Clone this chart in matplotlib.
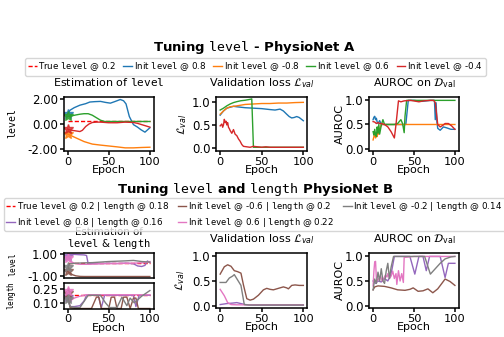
import matplotlib.pyplot as plt
from matplotlib.ticker import FormatStrFormatter

plt.rcParams['font.family'] = ['DejaVu Sans']
plt.rcParams['mathtext.fontset'] = 'dejavusans'
plt.rcParams['axes.linewidth'] = 1.1
plt.rcParams['xtick.major.width'] = 1.1
plt.rcParams['ytick.major.width'] = 1.1
plt.rcParams['xtick.major.size'] = 3
plt.rcParams['ytick.major.size'] = 3
plt.rcParams['xtick.major.pad'] = 1.0
plt.rcParams['ytick.major.pad'] = 1
plt.rcParams['xtick.labelsize'] = 8.2
plt.rcParams['ytick.labelsize'] = 8.5

# ---------------- PhysioNet A : tuning level ----------------
a_true_level = 0.2
a_init_levels = [0.8, -0.8, 0.6, -0.4]
a_colors = ['tab:blue', 'tab:orange', 'tab:green', 'tab:red']

# level estimate per run
a_lvl_ep_blue = [0, 3, 8, 15, 22, 27, 33, 40, 46, 52, 58, 64, 68, 71, 75, 80, 85, 89, 94, 100]
a_lvl_blue = [0.8, 1.1, 1.3, 1.5, 1.62, 1.75, 1.78, 1.8, 1.72, 1.66, 1.8, 1.95, 1.85, 1.6,
              0.6, -0.05, -0.25, -0.45, -0.65, -0.3]
a_lvl_ep_orange = [0, 5, 10, 15, 20, 25, 30, 40, 50, 60, 70, 80, 90, 100]
a_lvl_orange = [-0.8, -0.95, -1.1, -1.25, -1.4, -1.5, -1.6, -1.68, -1.75, -1.82, -1.9, -1.9,
                -1.87, -1.85]
a_lvl_ep_green = [0, 5, 10, 15, 20, 25, 30, 35, 40, 45, 50, 100]
a_lvl_green = [0.6, 0.65, 0.72, 0.78, 0.82, 0.82, 0.7, 0.5, 0.3, 0.2, 0.2, 0.2]
a_lvl_ep_red = [0, 5, 10, 15, 18, 22, 26, 30, 35, 40, 50, 60, 70, 80, 85, 90, 95, 100]
a_lvl_red = [-0.4, -0.5, -0.55, -0.6, -0.5, -0.2, 0.0, 0.12, 0.15, 0.15, 0.1, 0.1, 0.15, 0.12,
             0.05, -0.05, -0.15, -0.25]

# validation loss per run
a_loss_ep_blue = [0, 4, 8, 12, 16, 20, 30, 40, 50, 60, 66, 72, 76, 80, 83, 86, 89, 92, 95, 100]
a_loss_blue = [0.71, 0.8, 0.86, 0.88, 0.9, 0.89, 0.87, 0.86, 0.85, 0.83, 0.82, 0.84, 0.8, 0.73,
               0.68, 0.65, 0.66, 0.68, 0.66, 0.59]
a_loss_ep_orange = [0, 4, 8, 12, 20, 30, 40, 50, 60, 70, 80, 90, 100]
a_loss_orange = [0.73, 0.8, 0.86, 0.89, 0.91, 0.94, 0.95, 0.96, 0.96, 0.97, 0.97, 0.98, 0.985]
a_loss_ep_green = [0, 4, 8, 12, 16, 20, 25, 30, 36, 38, 40, 45, 50, 60, 70, 80, 90, 100]
a_loss_green = [0.82, 0.86, 0.91, 0.95, 0.98, 1.0, 1.02, 1.03, 1.05, 1.06, 0.02, 0.02, 0.02,
                0.02, 0.02, 0.02, 0.02, 0.02]
a_loss_ep_red = [0, 2, 3, 4, 5, 6, 7, 8, 9, 10, 11, 12, 14, 16, 18, 20, 22, 24, 26, 28, 32, 36,
                 40, 45, 50, 55, 60, 70, 80, 90, 100]
a_loss_red = [0.48, 0.52, 0.45, 0.5, 0.62, 0.55, 0.58, 0.5, 0.55, 0.45, 0.42, 0.38, 0.32, 0.4,
              0.3, 0.27, 0.2, 0.15, 0.08, 0.04, 0.03, 0.02, 0.04, 0.03, 0.02, 0.03, 0.02, 0.02,
              0.02, 0.02, 0.02]

# AUROC per run
a_auc_ep_blue = [0, 1, 2, 3, 4, 5, 6, 8, 10, 20, 30, 40, 43, 50, 60, 70, 75, 76, 77, 78, 79,
                 82, 86, 90, 95, 100]
a_auc_blue = [0.6, 0.65, 0.67, 0.6, 0.63, 0.55, 0.52, 0.58, 0.5, 0.5, 0.5, 0.5, 1.0, 1.0, 0.98,
              1.0, 1.0, 0.6, 0.95, 0.55, 0.42, 0.38, 0.45, 0.43, 0.4, 0.4]
a_auc_ep_orange = [0, 1, 2, 3, 4, 5, 6, 7, 8, 9, 10, 100]
a_auc_orange = [0.18, 0.25, 0.31, 0.22, 0.28, 0.25, 0.35, 0.3, 0.4, 0.45, 0.5, 0.5]
a_auc_ep_green = [0, 1, 2, 3, 4, 5, 6, 7, 8, 10, 12, 14, 18, 22, 26, 30, 32, 34, 36, 38, 39,
                  41, 100]
a_auc_green = [0.35, 0.28, 0.4, 0.3, 0.25, 0.45, 0.32, 0.5, 0.3, 0.48, 0.6, 0.5, 0.5, 0.5, 0.5,
               0.52, 0.56, 0.6, 0.52, 0.33, 0.67, 1.0, 1.0]
a_auc_ep_red = [0, 2, 4, 6, 8, 10, 14, 18, 22, 26, 28, 31, 34, 38, 46, 56, 62, 70, 74, 76, 79,
                82, 85, 88, 92, 96, 100]
a_auc_red = [0.56, 0.55, 0.52, 0.54, 0.52, 0.52, 0.5, 0.45, 0.35, 0.22, 0.5, 0.99, 0.97, 0.99,
             1.0, 0.97, 0.99, 1.0, 1.0, 0.95, 0.5, 0.45, 0.48, 0.52, 0.52, 0.47, 0.4]

# ---------------- PhysioNet B : tuning level and length ----------------
b_true_level = 0.2
b_true_length = 0.18
b_init_levels = [0.8, -0.6, 0.6, -0.2]
b_init_lengths = [0.16, 0.2, 0.22, 0.14]
b_colors = ['tab:purple', 'tab:brown', 'tab:pink', 'tab:gray']

b_lvl_ep_purple = [0, 3, 8, 14, 20, 23, 25, 30, 40, 50, 60, 70, 80, 85, 90, 94, 97, 100]
b_lvl_purple = [0.8, 0.93, 0.95, 0.92, 0.9, 0.85, 0.1, 0.12, 0.12, 0.14, 0.12, 0.15, 0.1, -0.1,
                -0.15, -0.05, 0.35, 0.2]
b_lvl_ep_brown = [0, 3, 6, 10, 15, 20, 40, 60, 80, 100]
b_lvl_brown = [-0.6, -0.75, -0.9, -1.0, -1.05, -1.06, -1.06, -1.06, -1.06, -1.06]
b_lvl_ep_pink = [0, 3, 8, 15, 25, 40, 60, 80, 95, 100]
b_lvl_pink = [0.6, 0.35, 0.15, 0.05, 0.05, 0.1, 0.12, 0.15, 0.2, 0.3]
b_lvl_ep_gray = [0, 3, 10, 20, 30, 40, 50, 60, 70, 80, 90, 100]
b_lvl_gray = [-0.2, 0.1, 0.15, 0.18, 0.2, 0.25, 0.3, 0.33, 0.36, 0.4, 0.3, 0.25]

b_len_ep_purple = [0, 3, 8, 15, 20, 23, 30, 37, 41, 45, 50, 60, 70, 80, 83, 87, 91, 100]
b_len_purple = [0.16, 0.06, 0.06, 0.07, 0.12, 0.18, 0.18, 0.18, 0.05, 0.18, 0.18, 0.18, 0.18,
                0.18, 0.06, 0.18, 0.18, 0.18]
b_len_ep_brown = [0, 3, 10, 20, 29, 35, 38, 41, 45, 50, 53, 57, 60, 65, 68, 72, 76, 80, 83, 86,
                  90, 100]
b_len_brown = [0.2, 0.05, 0.04, 0.04, 0.04, 0.16, 0.16, 0.04, 0.04, 0.04, 0.16, 0.16, 0.04,
               0.04, 0.16, 0.16, 0.04, 0.15, 0.15, 0.04, 0.04, 0.04]
b_len_ep_pink = [0, 3, 8, 15, 22, 30, 50, 70, 90, 100]
b_len_pink = [0.22, 0.12, 0.15, 0.17, 0.185, 0.185, 0.185, 0.185, 0.185, 0.185]
b_len_ep_gray = [0, 3, 10, 15, 25, 35, 40, 46, 51, 60, 66, 72, 76, 81, 90, 100]
b_len_gray = [0.14, 0.06, 0.05, 0.05, 0.18, 0.18, 0.18, 0.1, 0.05, 0.05, 0.16, 0.07, 0.15, 0.1,
              0.17, 0.23]

b_loss_ep_purple = [0, 8, 15, 20, 25, 30, 40, 100]
b_loss_purple = [0.02, 0.04, 0.05, 0.06, 0.04, 0.02, 0.01, 0.01]
b_loss_ep_brown = [0, 5, 9, 13, 17, 21, 25, 28, 32, 36, 40, 46, 52, 56, 60, 64, 68, 72, 76, 80,
                   82, 86, 90, 95, 100]
b_loss_brown = [0.64, 0.79, 0.83, 0.8, 0.71, 0.69, 0.66, 0.42, 0.14, 0.11, 0.13, 0.21, 0.32,
                0.35, 0.33, 0.32, 0.34, 0.36, 0.38, 0.36, 0.34, 0.41, 0.42, 0.41, 0.41]
b_loss_ep_pink = [0, 5, 9, 13, 20, 100]
b_loss_pink = [0.33, 0.2, 0.06, 0.02, 0.015, 0.015]
b_loss_ep_gray = [0, 7, 11, 15, 17, 21, 25, 29, 35, 100]
b_loss_gray = [0.47, 0.47, 0.56, 0.6, 0.63, 0.52, 0.41, 0.02, 0.01, 0.01]

b_auc_ep_purple = [0, 3, 6, 10, 14, 18, 22, 26, 35, 45, 51, 56, 61, 65, 69, 82, 88, 92, 100]
b_auc_purple = [0.5, 0.45, 0.5, 0.48, 0.55, 0.5, 0.64, 1.0, 1.0, 1.0, 0.64, 1.0, 1.0, 0.71, 1.0,
                1.0, 0.57, 0.86, 0.86]
b_auc_ep_brown = [0, 2, 6, 14, 22, 30, 39, 45, 49, 55, 61, 67, 73, 79, 84, 88, 94, 100]
b_auc_brown = [0.32, 0.38, 0.4, 0.39, 0.36, 0.32, 0.31, 0.33, 0.36, 0.29, 0.3, 0.34, 0.26, 0.34,
               0.45, 0.54, 0.49, 0.41]
b_auc_ep_pink = [0, 1, 2, 3, 4, 5, 7, 9, 11, 13, 15, 17, 18, 20, 22, 24, 26, 28, 29, 31, 33, 35,
                 37, 38, 50, 70, 100]
b_auc_pink = [0.4, 0.7, 0.89, 0.9, 0.55, 0.5, 0.55, 0.6, 0.5, 0.55, 0.62, 0.58, 0.65, 0.55, 0.6,
              0.7, 0.55, 0.65, 0.43, 0.71, 0.5, 0.65, 0.47, 0.98, 1.0, 1.0, 1.0]
b_auc_ep_gray = [0, 2, 4, 6, 8, 10, 12, 14, 16, 18, 20, 22, 25, 40, 63, 70, 82, 88, 95, 100]
b_auc_gray = [0.32, 0.54, 0.45, 0.68, 0.5, 0.75, 0.5, 0.45, 0.7, 0.86, 0.55, 0.78, 1.0, 1.0,
              1.0, 0.64, 0.86, 0.95, 0.99, 1.0]

TT = r'$\mathtt{level}$'
TL = r'$\mathtt{length}$'

W, H = 504, 337


def rect(x0, y0, x1, y1):
    # pixel box -> figure fraction
    return [x0 / W, 1 - y1 / H, (x1 - x0) / W, (y1 - y0) / H]


def style(ax, ylabel, lx, ticks, fmt, xlabel=True, ysize=8):
    ax.set_xlim(-5, 105)
    ax.set_xticks([0, 50, 100])
    ax.set_yticks(ticks)
    ax.yaxis.set_major_formatter(FormatStrFormatter(fmt))
    if xlabel:
        ax.set_xlabel('Epoch', fontsize=8, labelpad=-0.8)
    ax.set_ylabel(ylabel, fontsize=ysize)
    ax.yaxis.set_label_coords(lx, 0.5)


fig = plt.figure(figsize=(5.04, 3.37), dpi=100)

# ---- top row ----
ax1 = fig.add_axes(rect(63.5, 97, 154, 151))
ax2 = fig.add_axes(rect(216, 97, 307.5, 151))
ax3 = fig.add_axes(rect(369, 97, 459, 151))

ax1.plot([0, 100], [a_true_level, a_true_level], color='red', ls=(0, (3, 1.5)), lw=1,
         label='True ' + TT + ' @ 0.2')
a_lvl = [(a_lvl_ep_blue, a_lvl_blue), (a_lvl_ep_orange, a_lvl_orange),
         (a_lvl_ep_green, a_lvl_green), (a_lvl_ep_red, a_lvl_red)]
for (ep, v), c, init in zip(a_lvl, a_colors, a_init_levels):
    ax1.plot(ep, v, color=c, lw=1, label='Init ' + TT + ' @ ' + str(init))
    ax1.plot(0, init, marker='*', ms=7, color=c, alpha=0.8)
for (ep, v), c in zip([(a_loss_ep_blue, a_loss_blue), (a_loss_ep_orange, a_loss_orange),
                       (a_loss_ep_green, a_loss_green), (a_loss_ep_red, a_loss_red)], a_colors):
    ax2.plot(ep, v, color=c, lw=1)
for (ep, v), c in zip([(a_auc_ep_blue, a_auc_blue), (a_auc_ep_orange, a_auc_orange),
                       (a_auc_ep_green, a_auc_green), (a_auc_ep_red, a_auc_red)], a_colors):
    ax3.plot(ep, v, color=c, lw=1)

ax1.set_ylim(-2.15, 2.15)
ax2.set_ylim(-0.06, 1.1)
ax3.set_ylim(-0.05, 1.07)
style(ax1, TT, -0.50, [-2, 0, 2], '%.2f', ysize=7)
style(ax2, r'$\mathcal{L}_{val}$', -0.30, [0, 0.5, 1.0], '%.1f')
style(ax3, 'AUROC', -0.27, [0, 0.5, 1.0], '%.1f')
ax1.set_title('Estimation of ' + TT, fontsize=8, pad=8)
ax2.set_title(r'Validation loss $\mathcal{L}_{val}$', fontsize=8, pad=8)
ax3.set_title(r'AUROC on $\mathcal{D}_{\mathrm{val}}$', fontsize=8, pad=8)

fig.text(0.506, 1 - 48 / H, 'Tuning ' + TT + ' - PhysioNet A', ha='center', va='center',
         fontsize=9.5, fontweight='bold')
h, l = ax1.get_legend_handles_labels()
fig.legend(h, l, loc='center', bbox_to_anchor=(255.5 / W, 1 - 67 / H), ncol=5, fontsize=6.3,
           handlelength=1.0, handletextpad=0.2, columnspacing=0.8, borderpad=0.3,
           borderaxespad=0, frameon=True, edgecolor='0.8')

# ---- bottom row ----
bx_lvl = fig.add_axes(rect(63.5, 252.5, 154, 277.5))
bx_len = fig.add_axes(rect(63.5, 282.5, 154, 308.5))
bx2 = fig.add_axes(rect(216, 253, 307.5, 308))
bx3 = fig.add_axes(rect(369, 253, 459, 308))

bx_lvl.plot([0, 100], [b_true_level, b_true_level], color='red', ls=(0, (3, 1.5)), lw=1,
            label='True ' + TT + ' @ 0.2 | ' + TL + ' @ 0.18')
bx_len.plot([0, 100], [b_true_length, b_true_length], color='red', ls=(0, (3, 1.5)), lw=1)
b_lvl = [(b_lvl_ep_purple, b_lvl_purple), (b_lvl_ep_brown, b_lvl_brown),
         (b_lvl_ep_pink, b_lvl_pink), (b_lvl_ep_gray, b_lvl_gray)]
b_len = [(b_len_ep_purple, b_len_purple), (b_len_ep_brown, b_len_brown),
         (b_len_ep_pink, b_len_pink), (b_len_ep_gray, b_len_gray)]
for (ep, v), (ep2, v2), c, il, ig in zip(b_lvl, b_len, b_colors, b_init_levels, b_init_lengths):
    bx_lvl.plot(ep, v, color=c, lw=1,
                label='Init ' + TT + ' @ ' + str(il) + ' | ' + TL + ' @ ' + str(ig))
    bx_lvl.plot(0, il, marker='*', ms=7, color=c, alpha=0.8)
    bx_len.plot(ep2, v2, color=c, lw=1)
    bx_len.plot(0, ig, marker='*', ms=7, color=c, alpha=0.8)
for (ep, v), c in zip([(b_loss_ep_purple, b_loss_purple), (b_loss_ep_brown, b_loss_brown),
                       (b_loss_ep_pink, b_loss_pink), (b_loss_ep_gray, b_loss_gray)], b_colors):
    bx2.plot(ep, v, color=c, lw=1)
for (ep, v), c in zip([(b_auc_ep_purple, b_auc_purple), (b_auc_ep_brown, b_auc_brown),
                       (b_auc_ep_pink, b_auc_pink), (b_auc_ep_gray, b_auc_gray)], b_colors):
    bx3.plot(ep, v, color=c, lw=1)

bx_lvl.set_ylim(-1.15, 1.12)
bx_len.set_ylim(0.04, 0.315)
bx2.set_ylim(-0.05, 1.07)
bx3.set_ylim(-0.05, 1.07)
style(bx_lvl, TT, -0.50, [-1, 1], '%.2f', xlabel=False, ysize=5.5)
bx_lvl.set_xticks([])
style(bx_len, TL, -0.50, [0.10, 0.25], '%.2f', ysize=5.5)
style(bx2, r'$\mathcal{L}_{val}$', -0.32, [0, 0.5, 1.0], '%.1f')
style(bx3, 'AUROC', -0.27, [0, 0.5, 1.0], '%.1f')
bx_lvl.set_title('Estimation of\n' + TT + ' & ' + TL, fontsize=7.4, pad=4, linespacing=1.0)
bx2.set_title(r'Validation loss $\mathcal{L}_{val}$', fontsize=8, pad=8)
bx3.set_title(r'AUROC on $\mathcal{D}_{\mathrm{val}}$', fontsize=8, pad=8)

fig.text(0.506, 1 - 190 / H, 'Tuning ' + TT + ' and ' + TL + ' PhysioNet B', ha='center',
         va='center', fontsize=9.5, fontweight='bold')
h, l = bx_lvl.get_legend_handles_labels()
fig.legend(h, l, loc='center', bbox_to_anchor=(254.5 / W, 1 - 214.5 / H), ncol=3,
           fontsize=6.3, handlelength=1.0, handletextpad=0.2, columnspacing=1.0,
           borderpad=0.25, borderaxespad=0, labelspacing=0.25, frameon=True, edgecolor='0.8')

fig.savefig('out.png', dpi=100)
